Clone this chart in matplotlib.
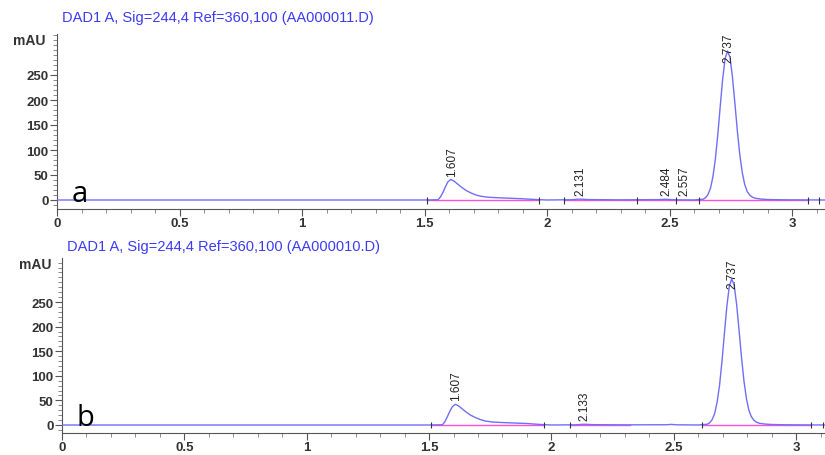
import matplotlib
matplotlib.use("Agg")
import matplotlib.pyplot as plt
from matplotlib.ticker import MultipleLocator, FuncFormatter

# chromatogram a (AA000011.D)
time_a = [0.00, 1.50, 1.555, 1.565, 1.575, 1.585, 1.595, 1.607, 1.62, 1.635, 1.65, 1.67,
          1.69, 1.71, 1.73, 1.76, 1.80, 1.85, 1.90, 1.95, 2.00, 2.10, 2.131, 2.17, 2.30,
          2.46, 2.484, 2.51, 2.60, 2.637, 2.647, 2.657, 2.667, 2.677, 2.687, 2.697, 2.707,
          2.717, 2.727, 2.737, 2.747, 2.757, 2.767, 2.777, 2.787, 2.797, 2.807, 2.817,
          2.827, 2.837, 2.85, 2.87, 2.90, 2.95, 3.00, 3.135]
mau_a = [0, 0, 0.5, 6, 15, 26, 36, 41, 38, 32, 26, 19,
         14, 10, 7.5, 5.5, 4.5, 3.5, 2.5, 1, 0, 0.5, 1.8, 0.8, 0.3,
         0.8, 1.5, 0.5, 0, 1.5, 4.5, 11, 23, 46, 81, 130, 187,
         242, 283, 298, 285, 246, 193, 138, 90, 55, 31, 17,
         10, 6, 3.5, 2, 1, 0.5, 0.3, 0]

# chromatogram b (AA000010.D)
time_b = [0.00, 1.50, 1.555, 1.565, 1.575, 1.585, 1.595, 1.607, 1.62, 1.635, 1.65, 1.67,
          1.69, 1.71, 1.73, 1.76, 1.80, 1.85, 1.90, 1.95, 2.00, 2.10, 2.133, 2.17, 2.30,
          2.47, 2.49, 2.51, 2.60, 2.637, 2.647, 2.657, 2.667, 2.677, 2.687, 2.697, 2.707,
          2.717, 2.727, 2.737, 2.747, 2.757, 2.767, 2.777, 2.787, 2.797, 2.807, 2.817,
          2.827, 2.837, 2.85, 2.87, 2.90, 2.95, 3.00, 3.12]
mau_b = [0, 0, 0.5, 7, 17, 28, 37, 42, 39, 33, 27, 20,
         15, 11, 8, 6, 5, 4, 3, 1.2, 0, 0.4, 1.5, 0.7, 0.3,
         0.5, 1.2, 0.4, 0, 1.5, 4.5, 11, 23, 46, 80, 129, 186,
         241, 282, 297, 284, 245, 192, 137, 89, 54, 30, 17,
         10, 6, 3.5, 2, 1, 0.5, 0.3, 0]

peaks_a = [1.607, 2.131, 2.484, 2.557, 2.737]
label_y_a = [48, 9, 9, 9, 276]
peaks_b = [1.607, 2.133, 2.737]
label_y_b = [50, 10, 278]

baselines_a = [(1.511, 1.969), (2.071, 3.067)]
baselines_b = [(1.508, 1.970), (2.076, 2.320), (2.616, 3.060)]
marks_a = [1.511, 1.969, 2.071, 2.366, 2.527, 2.621, 3.067, 3.11]
marks_b = [1.508, 1.970, 2.076, 2.616, 3.060, 3.11]

titles = ["DAD1 A, Sig=244,4 Ref=360,100 (AA000011.D)",
          "DAD1 A, Sig=244,4 Ref=360,100 (AA000010.D)"]
letters = ["a", "b"]

plt.rcParams['font.family'] = ['Liberation Sans', 'DejaVu Sans']

fig = plt.figure(figsize=(8.25, 4.56), dpi=100)
W, H = 825.0, 456.0

# axes boxes in pixels: left, bottom spine y, top y, px per minute, px per mAU, y of 0 mAU
panels = [
    dict(left=57, ybot=210, ytop=35, xs=245.0, zero=201, ys=0.5,
         t=time_a, v=mau_a, pk=peaks_a, ly=label_y_a, bl=baselines_a, mk=marks_a,
         title_x=62, title_y=18, letter_xy=(80, 195)),
    dict(left=62, ybot=434, ytop=259, xs=244.7, zero=426, ys=0.492,
         t=time_b, v=mau_b, pk=peaks_b, ly=label_y_b, bl=baselines_b, mk=marks_b,
         title_x=67, title_y=247, letter_xy=(85, 419)),
]

tick_color = '#333333'
for i, p in enumerate(panels):
    ax = fig.add_axes([p['left'] / W, (H - p['ybot']) / H,
                       (W - p['left']) / W, (p['ybot'] - p['ytop']) / H])
    ax.set_xlim(0, (W - p['left']) / p['xs'])
    ax.set_ylim(-(p['ybot'] - p['zero']) / p['ys'], (p['zero'] - p['ytop']) / p['ys'])

    ax.plot(p['t'], p['v'], color='#6f6ff7', lw=1.0, zorder=3)
    for s, e in p['bl']:
        ax.plot([s, e], [0, 0], color='#ff4fd8', lw=1.0, zorder=2)
    ax.vlines(p['mk'], -7, 7, color='#333333', lw=0.8, zorder=4)

    for x, y in zip(p['pk'], p['ly']):
        ax.text(x + 0.004, y, '%.3f' % x, rotation=90, ha='center', va='bottom',
                fontsize=8.5, color='#222222', clip_on=False, zorder=5)

    for side in ['top', 'right']:
        ax.spines[side].set_visible(False)
    for side in ['left', 'bottom']:
        ax.spines[side].set_color('#555555')
        ax.spines[side].set_linewidth(0.8)

    ax.set_yticks([0, 50, 100, 150, 200, 250])
    ax.yaxis.set_minor_locator(MultipleLocator(10))
    ax.xaxis.set_major_locator(MultipleLocator(0.5))
    ax.xaxis.set_minor_locator(MultipleLocator(0.1))
    ax.xaxis.set_major_formatter(FuncFormatter(lambda v, pos: '%g' % v))
    ax.tick_params(which='major', length=5, width=0.8, color='#555555',
                   labelsize=9.5, labelcolor=tick_color, pad=1)
    ax.tick_params(which='minor', length=3, width=0.6, color='#777777')
    for lab in ax.get_xticklabels() + ax.get_yticklabels():
        lab.set_fontweight('bold')

    fig.text(p['title_x'] / W, 1 - p['title_y'] / H, titles[i], color='#3b3bf5',
             fontsize=10.5, ha='left', va='center')
    fig.text((p['left'] - 11) / W, 1 - (p['ytop'] + 6) / H, 'mAU', color=tick_color,
             fontsize=10, fontweight='bold', ha='right', va='center')
    fig.text(p['letter_xy'][0] / W, 1 - p['letter_xy'][1] / H, letters[i],
             family='Open Sans', fontsize=21, color='black', ha='center', va='center')

fig.savefig('out.png', dpi=100)
